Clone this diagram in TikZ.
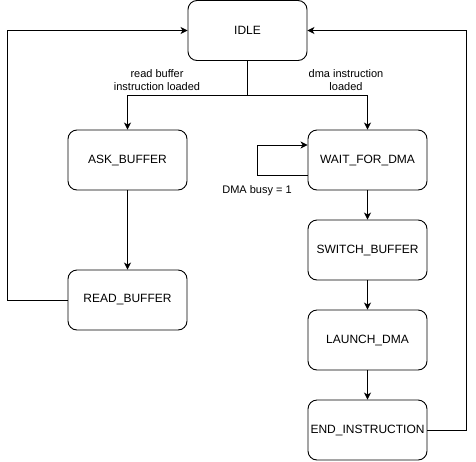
\documentclass[tikz,border=0pt]{standalone}
\usepackage{fontspec}
\setmainfont{Liberation Sans}
\usetikzlibrary{arrows.meta}
\begin{document}
\begin{tikzpicture}[x=1pt,y=-1pt,
  state/.style={draw,line width=0.9pt,rounded corners=9pt,minimum width=119pt,minimum height=60pt,inner sep=0pt,font=\fontsize{12}{14}\selectfont},
  conn/.style={line width=0.9pt,-{Stealth[length=7pt,width=7pt,inset=2pt]}},
  lbl/.style={font=\fontsize{11}{13.5}\selectfont,align=center,inner sep=0pt}]
\useasboundingbox (0,0) rectangle (476,461);
\node[state] (idle) at (247.5,30.5) {IDLE};
\node[state] (ask) at (127.5,160) {ASK\_BUFFER};
\node[state] (read) at (127.5,300) {READ\_BUFFER};
\node[state] (wait) at (367.5,160) {WAIT\_FOR\_DMA};
\node[state] (switch) at (367.5,250) {SWITCH\_BUFFER};
\node[state] (launch) at (367.5,340) {LAUNCH\_DMA};
\node[state] (end) at (367.5,430) {END\_INSTRUCTION};
\coordinate (split) at (247.5,95);
\draw[line width=0.9pt] (idle.south) -- (split);
\draw[conn] (split) -| (ask.north);
\draw[conn] (split) -| (wait.north);
\node[lbl] (l1) at (157,80) {read buffer\\instruction loaded};
\node[lbl] (l2) at (346,80) {dma instruction\\loaded};
\draw[conn] (ask) -- (read);
\draw[conn] (read.west) -- (7.5,300) -- (7.5,30.5) -- (idle.west);
\draw[conn] (end.east) -- (466,430) -- (466,30.5) -- (idle.east);
\draw[conn] (wait.south west |- 0,175) -- (257,175) -- (257,145) -- (wait.south west |- 0,145);
\node[lbl] (l3) at (257,191) {DMA busy = 1};
\draw[conn] (wait) -- (switch);
\draw[conn] (switch) -- (launch);
\draw[conn] (launch) -- (end);
\end{tikzpicture}
\end{document}
